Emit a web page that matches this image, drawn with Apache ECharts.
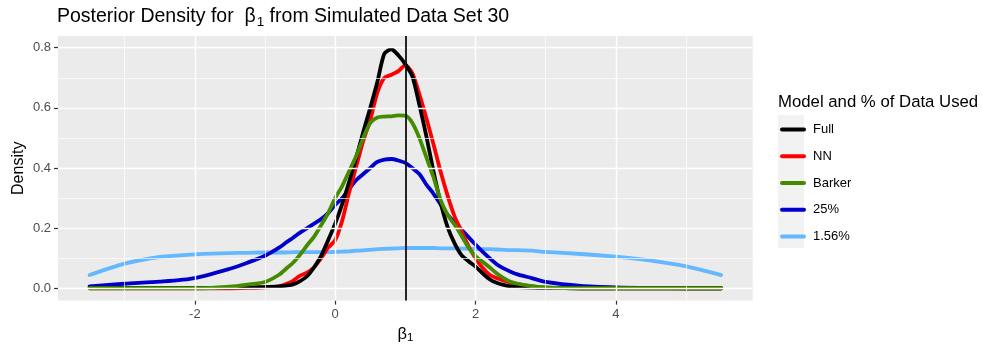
<!DOCTYPE html>
<html>
<head>
<meta charset="utf-8">
<script src="https://cdn.jsdelivr.net/npm/echarts@6/dist/echarts.min.js"></script>
<style>
  html, body { margin: 0; padding: 0; background: #fff; }
  #main { width: 982px; height: 349px; }
</style>
</head>
<body>
<div id="main"></div>
<script>
// grid of beta_1 values the densities are read at
const xs = [-3.5, -3, -2.5, -2, -1.5, -1.25, -1,
  -0.8, -0.7, -0.6, -0.5, -0.4, -0.3, -0.2, -0.1, 0, 0.1, 0.2, 0.3, 0.4, 0.5, 0.6, 0.7, 0.8, 0.9,
  1, 1.1, 1.2, 1.3, 1.4, 1.5, 1.6, 1.7, 1.8, 1.9, 2, 2.1, 2.2, 2.3, 2.4, 2.5, 2.6,
  2.8, 3, 3.5, 4, 4.5, 5, 5.5]

const full = [0.001, 0.001, 0.001, 0.001, 0.002, 0.003, 0.004,
  0.006, 0.009, 0.013, 0.024, 0.04, 0.07, 0.108, 0.16, 0.215, 0.28, 0.355, 0.435, 0.52, 0.6, 0.685, 0.78, 0.795, 0.775,
  0.745, 0.705, 0.61, 0.505, 0.39, 0.287, 0.205, 0.15, 0.11, 0.09, 0.072, 0.05, 0.03, 0.018, 0.011, 0.006, 0.004,
  0.002, 0.001, 0, 0, 0, 0, 0]

const nn = [0, 0, 0, 0, 0, 0.001, 0.003,
  0.006, 0.014, 0.025, 0.042, 0.052, 0.07, 0.1, 0.135, 0.16, 0.225, 0.32, 0.405, 0.49, 0.56, 0.65, 0.7, 0.71, 0.722,
  0.742, 0.715, 0.645, 0.565, 0.48, 0.39, 0.31, 0.24, 0.19, 0.14, 0.1, 0.068, 0.045, 0.034, 0.026, 0.019, 0.014,
  0.006, 0.002, 0, 0, 0, 0, 0]

const barker = [0, 0, 0, 0, 0.005, 0.012, 0.021,
  0.045, 0.065, 0.085, 0.112, 0.143, 0.172, 0.21, 0.25, 0.3, 0.34, 0.39, 0.44, 0.5, 0.55, 0.568, 0.571, 0.572, 0.575,
  0.574, 0.55, 0.5, 0.435, 0.37, 0.295, 0.245, 0.212, 0.175, 0.135, 0.107, 0.088, 0.07, 0.05, 0.034, 0.022, 0.015,
  0.007, 0.003, 0, 0, 0, 0, 0]

const pct25 = [0.006, 0.015, 0.022, 0.034, 0.065, 0.085, 0.108,
  0.135, 0.152, 0.168, 0.185, 0.2, 0.215, 0.23, 0.25, 0.277, 0.3, 0.33, 0.36, 0.38, 0.4, 0.42, 0.428, 0.43, 0.425,
  0.417, 0.4, 0.38, 0.345, 0.315, 0.28, 0.245, 0.22, 0.195, 0.17, 0.145, 0.122, 0.1, 0.08, 0.066, 0.055, 0.046,
  0.034, 0.021, 0.008, 0.003, 0.001, 0, 0]

const pct156 = [0.044, 0.082, 0.104, 0.113, 0.117, 0.118, 0.119,
  0.119, 0.119, 0.12, 0.12, 0.12, 0.12, 0.12, 0.12, 0.121, 0.122, 0.123, 0.125, 0.126, 0.128, 0.13, 0.131, 0.132, 0.133,
  0.134, 0.134, 0.134, 0.134, 0.134, 0.133, 0.133, 0.133, 0.132, 0.132, 0.131, 0.13, 0.13, 0.129, 0.128, 0.127, 0.127,
  0.125, 0.121, 0.114, 0.105, 0.092, 0.073, 0.044]

const legendNames = ['Full', 'NN', 'Barker', '25%', '1.56%']
const xMajor = [-2, 0, 2, 4]
const xMinor = [-3, -1, 1, 3, 5]
const yMajor = [0, 0.2, 0.4, 0.6, 0.8]
const yMinor = [0.1, 0.3, 0.5, 0.7]
const trueBeta = 1

const FONT = '"Liberation Sans", Arial, Helvetica, sans-serif'

const myChart = echarts.init(document.getElementById('main'), null, { renderer: 'canvas' })

const curve = (name, vals, color, z) => ({
  name,
  type: 'line',
  data: xs.map((x, i) => [x, vals[i]]),
  symbol: 'none',
  smooth: 0.25,
  z,
  lineStyle: { color, width: 3.8, cap: 'round', join: 'round' },
  itemStyle: { color },
  silent: true
})

const gridLines = [
  ...xMajor.map(v => ({ xAxis: v, lineStyle: { width: 1.4 } })),
  ...xMinor.map(v => ({ xAxis: v, lineStyle: { width: 0.7 } })),
  ...yMajor.map(v => ({ yAxis: v, lineStyle: { width: 1.4 } })),
  ...yMinor.map(v => ({ yAxis: v, lineStyle: { width: 0.7 } }))
]

myChart.setOption({
  animation: false,
  textStyle: { fontFamily: FONT },
  title: [{
    left: 57,
    top: 5,
    padding: 0,
    text: '{a|Posterior Density for  β}{s|1}{a| from Simulated Data Set 30}',
    textStyle: {
      rich: {
        a: { fontSize: 19.5, fontWeight: 'normal', color: '#000', fontFamily: FONT, lineHeight: 24 },
        s: { fontSize: 13.5, fontWeight: 'normal', color: '#000', fontFamily: FONT, lineHeight: 12, verticalAlign: 'bottom', padding: [0, 0, 0, 1] }
      }
    }
  }, {
    left: 778,
    top: 94,
    padding: 0,
    text: 'Model and % of Data Used',
    textStyle: { fontSize: 16.75, fontWeight: 'normal', color: '#000', fontFamily: FONT }
  }],
  grid: {
    left: 58,
    top: 36,
    right: 229.3,
    bottom: 47.3,
    show: true,
    backgroundColor: '#EBEBEB',
    borderWidth: 0
  },
  legend: {
    data: legendNames,
    orient: 'vertical',
    left: 780,
    top: 123,
    padding: 0,
    itemWidth: 22,
    itemHeight: 14,
    itemGap: 13.75,
    selectedMode: false,
    itemStyle: { opacity: 0 },
    lineStyle: { width: 4 },
    textStyle: { fontSize: 13, color: '#000', fontFamily: FONT, padding: [0, 0, 0, 4] }
  },
  graphic: [{
    type: 'rect',
    left: 778,
    top: 115,
    shape: { width: 26, height: 133 },
    style: { fill: '#F2F2F2' },
    z: -1
  }],
  xAxis: {
    type: 'value',
    min: -3.95,
    max: 5.95,
    name: '{b|β}{s|1}',
    nameLocation: 'middle',
    nameGap: 23,
    nameTextStyle: {
      rich: {
        b: { fontSize: 16.5, color: '#000', fontFamily: FONT, lineHeight: 20 },
        s: { fontSize: 11.5, color: '#000', fontFamily: FONT, lineHeight: 10, verticalAlign: 'bottom' }
      }
    },
    axisLine: { show: false, onZero: false },
    splitLine: { show: false },
    axisTick: { show: true, customValues: xMajor, length: 4, lineStyle: { color: '#333333', width: 1.2 } },
    axisLabel: { customValues: xMajor, color: '#4D4D4D', fontSize: 13, margin: 7, fontFamily: FONT,
      formatter: v => String(v) }
  },
  yAxis: {
    type: 'value',
    min: -0.041,
    max: 0.839,
    name: 'Density',
    nameLocation: 'middle',
    nameGap: 31,
    nameMoveOverlap: false,
    nameTextStyle: { fontSize: 16, color: '#000', fontFamily: FONT },
    axisLine: { show: false, onZero: false },
    splitLine: { show: false },
    axisTick: { show: true, customValues: yMajor, length: 4, lineStyle: { color: '#333333', width: 1.2 } },
    axisLabel: { customValues: yMajor, color: '#4D4D4D', fontSize: 13, margin: 7, fontFamily: FONT,
      formatter: v => v.toFixed(1) }
  },
  series: [
    {
      name: 'gridlines',
      type: 'line',
      data: [],
      z: 1,
      silent: true,
      markLine: {
        silent: true,
        symbol: 'none',
        label: { show: false },
        lineStyle: { color: '#FFFFFF', type: 'solid' },
        data: gridLines
      }
    },
    curve('1.56%', pct156, '#63B8FF', 2),
    curve('25%', pct25, '#0000CD', 2),
    curve('NN', nn, '#FF0000', 2),
    curve('Full', full, '#000000', 2),
    curve('Barker', barker, '#458B00', 2),
    {
      name: 'truth',
      type: 'line',
      data: [],
      z: 5,
      silent: true,
      markLine: {
        silent: true,
        symbol: 'none',
        label: { show: false },
        lineStyle: { color: '#000000', type: 'solid', width: 1.7 },
        data: [{ xAxis: trueBeta }]
      }
    }
  ]
})
</script>
</body>
</html>
